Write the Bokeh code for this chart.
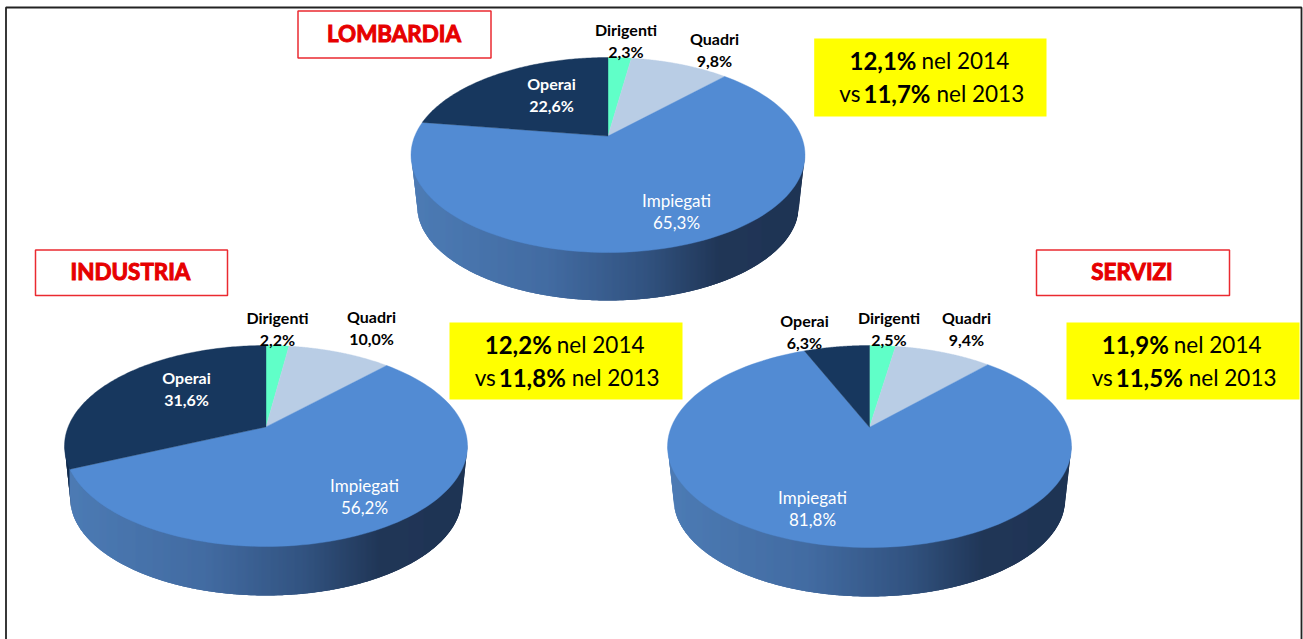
import numpy as np
from bokeh.plotting import figure
from bokeh.core.properties import value
from bokeh.embed import file_html
from bokeh.resources import INLINE
from bokeh.models import Range1d

# ---- data
categories = ["Dirigenti", "Quadri", "Impiegati", "Operai"]
lombardia = [2.3, 9.8, 65.3, 22.6]
industria = [2.2, 10.0, 56.2, 31.6]
servizi = [2.5, 9.4, 81.8, 6.3]
regions = ["LOMBARDIA", "INDUSTRIA", "SERVIZI"]
rate_2014 = ["12,1%", "12,2%", "11,9%"]
rate_2013 = ["11,7%", "11,8%", "11,5%"]

# ---- styles / layout
FONT = value("Lato")
slice_colors = ["#60FFC8", "#B9CDE5", "#528BD3", "#17375E"]
wall_operai = "#102A4C"
wall_stops = [(0.0, (77, 124, 181)), (0.35, (67, 108, 162)), (0.6, (50, 83, 128)),
              (0.78, (33, 55, 88)), (1.0, (31, 52, 84))]

OX, OY = 0, 0
W, H = 1303, 639
p = figure(width=W, height=H, output_backend="svg", toolbar_location=None,
           x_range=Range1d(OX, OX + W), y_range=Range1d(OY + H, OY), min_border=0,
           outline_line_color=None)
p.axis.visible = False
p.grid.visible = False

# frame: open at the bottom
p.line([5.5, 5.5, 1301, 1301], [OY + H, 7, 7, OY + H], line_color="#222222", line_width=1.8)


def rim(theta, a):
    c, s = np.cos(theta), np.sin(theta)
    d = 1 + a * c
    return s * np.sqrt(1 - a * a) / d, (c + a) / d


def wall_color(t):
    ts = [q[0] for q in wall_stops]
    rgb = [int(np.interp(t, ts, [q[1][i] for q in wall_stops])) for i in range(3)]
    return "#%02x%02x%02x" % tuple(rgb)


def pie(vals, cx, cy, rx, ry, depth_cy, rxb, ryb, a, label_pos, op_color="white"):
    vals = np.asarray(vals, float)
    edges = np.concatenate([[0], np.cumsum(vals) / vals.sum()]) * 2 * np.pi

    # side wall: narrow overlapping trapezoids for the shading, painted left to right
    grid = np.arange(np.ceil(cx - rx), np.floor(cx + rx) + 1)
    grid = np.r_[cx - rx, grid, cx + rx]
    yb_fn = lambda dx: (depth_cy + ryb * np.sqrt(np.clip(1 - (dx / rxb) ** 2, 0, 1))
                        if abs(dx) <= rxb else
                        depth_cy - (abs(dx) - rxb) / (rx - rxb) * (depth_cy - cy))
    top_fn = lambda dx: cy + ry * np.sqrt(max(1 - (dx / rx) ** 2, 0))
    wx, wy, wc = [], [], []
    for x0, x1 in zip(grid[:-1], grid[1:]):
        if x1 <= x0:
            continue
        x1e = min(x1 + 1.5, cx + rx)
        Xm = ((x0 + x1) / 2 - cx) / rx
        Ym = -np.sqrt(1 - Xm * Xm)
        c = (Ym - a) / (1 - a * Ym)
        th = np.arctan2(Xm * np.sqrt(1 - c * c) / max(np.sqrt(1 - Ym * Ym), 1e-6), c) % (2 * np.pi)
        idx = min(np.searchsorted(edges, th) - 1, len(vals) - 1)
        col = wall_color((Xm + 1) / 2) if idx != 3 else wall_operai
        wx.append([x0, x1e, x1e, x0])
        wy.append([top_fn(x0 - cx) - 1, top_fn(x1e - cx) - 1, yb_fn(x1e - cx), yb_fn(x0 - cx)])
        wc.append(col)
    p.patches(wx, wy, fill_color=wc, fill_alpha=1.0, line_color=None)

    # top face
    ax, ay = cx, cy - a * ry
    for i in range(len(vals)):
        th = np.linspace(edges[i], edges[i + 1], 120)
        X, Y = rim(th, a)
        p.patch(np.r_[ax, cx + rx * X], np.r_[ay, cy - ry * Y],
                fill_color=slice_colors[i], line_color=slice_colors[i], line_width=0.4)

    # labels
    colors = ["black", "black", "white", op_color]
    for i, (lx, ly) in enumerate(label_pos):
        pct = f"{vals[i]:.1f}".replace(".", ",") + "%"
        style = "normal" if i == 2 else "bold"
        fs = "17px" if i == 2 else "16px"
        p.text([lx], [ly], text=[categories[i]], text_font=FONT, text_font_size=fs,
               text_font_style=style, text_color=colors[i],
               text_align="center", text_baseline="middle")
        p.text([lx], [ly + 22], text=[pct], text_font=FONT, text_font_size=fs,
               text_font_style=style, text_color=colors[i],
               text_align="center", text_baseline="middle")


pie(lombardia, 607.5, 154.5, 197, 97.5, 205, 191, 95, 0.194,
    [(625.5, 29), (714, 38), (676, 200), (551, 83)])
pie(industria, 265.5, 445.5, 201.5, 100.5, 497, 196, 98, 0.19,
    [(277, 317), (371, 316), (364, 485), (186, 377)])
pie(servizi, 869, 446, 202, 101, 498, 196, 98, 0.19,
    [(888.5, 317), (966, 317), (812, 497), (804, 320)], op_color="black")

# titles
title_boxes = [(297.5, 490.5, 10.5, 57.5), (35, 227, 249.5, 295), (1036, 1229, 249.5, 295)]
title_dx = [-0.5, -1, -1]
for name, (l, r, t, b), dx in zip(regions, title_boxes, title_dx):
    p.quad(left=[l], right=[r], top=[t], bottom=[b], fill_color="white",
           line_color="#EA2A30", line_width=1.5)
    p.text([(l + r) / 2 + dx], [(t + b) / 2 - 1.5], text=[name],
           text_font=FONT, text_font_size="22.4px", text_font_style="bold", text_color="#E60000",
           text_align="center", text_baseline="middle",
           text_outline_color="#E60000")

# yellow notes
note_boxes = [(813.7, 1046, 38, 116), (449, 682, 322, 399), (1066, 1299, 322, 399)]
for v14, v13, (l, r, t, b) in zip(rate_2014, rate_2013, note_boxes):
    p.quad(left=[l], right=[r], top=[t], bottom=[b], fill_color="#FFFF00", line_color=None)
    bold_fs, reg_fs = "24px", "22.5px"
    y1, y2 = t + 22, t + 55
    p.text([l + 102.3], [y1], text=[v14], text_font=FONT, text_font_size=bold_fs, text_font_style="bold",
           text_color="black", text_align="right", text_baseline="middle")
    p.text([l + 107.3], [y1], text=["nel 2014"], text_font=FONT, text_font_size=reg_fs,
           text_color="black", text_align="left", text_baseline="middle")
    p.text([l + 46.3], [y2], text=["vs"], text_font=FONT, text_font_size=reg_fs,
           text_color="black", text_align="right", text_baseline="middle")
    p.text([l + 116.3], [y2], text=[v13], text_font=FONT, text_font_size=bold_fs, text_font_style="bold",
           text_color="black", text_align="right", text_baseline="middle")
    p.text([l + 122.3], [y2], text=["nel 2013"], text_font=FONT, text_font_size=reg_fs,
           text_color="black", text_align="left", text_baseline="middle")

open("out.html", "w").write(file_html(p, INLINE))
